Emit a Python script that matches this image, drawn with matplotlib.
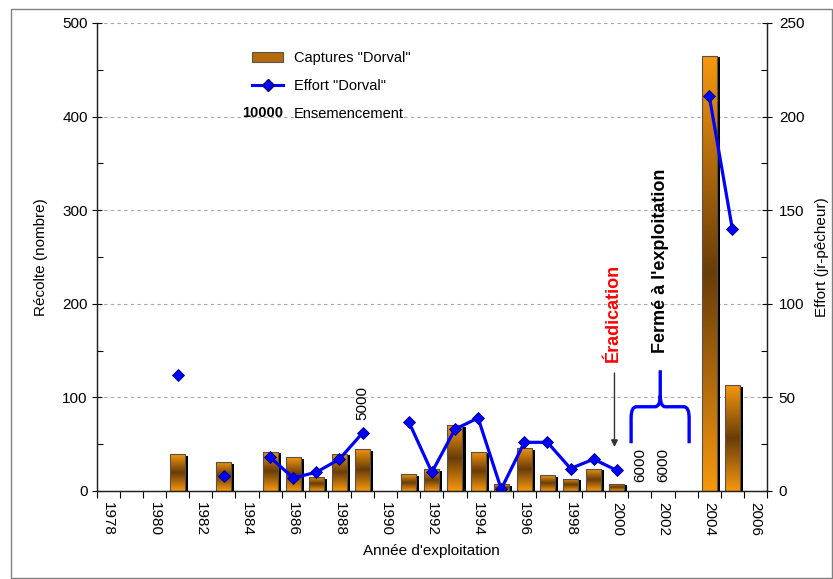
import numpy as np
import matplotlib
matplotlib.use("Agg")
import matplotlib.pyplot as plt
import matplotlib.patheffects as pe
from matplotlib.colors import LinearSegmentedColormap
from matplotlib.lines import Line2D
from matplotlib.patches import Patch, Rectangle, PathPatch
from matplotlib.path import Path
from matplotlib.legend_handler import HandlerBase
import matplotlib.text as mtext

plt.rcParams['font.family'] = ['Liberation Sans', 'DejaVu Sans']
plt.rcParams['font.size'] = 11

nan = np.nan
years = np.arange(1978, 2007)
# captures (nombre) par année, nan = pas d'exploitation
captures = np.array([nan, nan, nan, 39, nan, 31, nan, 42, 36, 15, 40, 45, nan,
                     18, 23, 70, 42, 7, 46, 17, 13, 24, 8, nan, nan, nan,
                     465, 113, nan])
# effort (jr-pêcheur)
effort = np.array([nan, nan, nan, 62, nan, 8, nan, 18, 7, 10, 17, 31, nan,
                   37, 10, 33, 39, 1, 26, 26, 12, 17, 11, nan, nan, nan,
                   211, 140, nan])
# ensemencements
seed_years = [1989, 2001, 2002]
seed_counts = [5000, 6000, 6000]
seed_y = [76, 10, 10]

orange = '#F7980C'
brown = '#693D08'
blue = '#0000FF'

fig = plt.figure(figsize=(8.33, 5.79), dpi=100)
ax = fig.add_axes([0.1161, 0.152, 0.8047, 0.8083])
ax2 = ax.twinx()

# bars: plain face + shadow, then gradient clipped inside, then outline
mask = ~np.isnan(captures)
bars = ax.bar(years[mask], captures[mask], width=0.65, color=orange,
              edgecolor='none', zorder=2,
              path_effects=[pe.SimplePatchShadow(offset=(2.2, -1.2),
                                                 shadow_rgbFace='black', alpha=1),
                            pe.Normal()])
cmap = LinearSegmentedColormap.from_list('bar', [brown, '#B06A0C', orange])
grad = np.abs(np.linspace(-1, 1, 256)).reshape(-1, 1)
for b in bars:
    x0, y0 = b.get_xy()
    im = ax.imshow(grad, extent=(x0, x0 + b.get_width(), y0, y0 + b.get_height()),
                   cmap=cmap, aspect='auto', interpolation='bilinear', zorder=2.1)
    im.set_clip_path(b)
ax.bar(years[mask], captures[mask], width=0.65, fill=False,
       edgecolor='#5a5048', linewidth=0.8, zorder=2.2)

ax2.plot(years, effort, color=blue, lw=2.3, marker='D', markersize=6.5,
         markerfacecolor=blue, markeredgecolor='#000070', markeredgewidth=0.6)

ax.set_xlim(1977.5, 2006.5)
ax.set_ylim(0, 500)
ax2.set_ylim(0, 250)

ax.set_xticks(np.arange(1978, 2007, 2))
ax.set_xticks(np.arange(1977.5, 2007, 1), minor=True)
ax.tick_params(axis='x', which='major', length=0, rotation=-90, pad=8)
ax.tick_params(axis='x', which='minor', length=5, direction='out', width=0.8)

ax.set_yticks(np.arange(0, 501, 100))
ax.set_yticks(np.arange(0, 501, 50), minor=True)
ax.tick_params(axis='y', which='major', direction='inout', length=7, width=0.8, pad=3)
ax.tick_params(axis='y', which='minor', direction='in', length=4, width=0.8)
ax2.set_yticks(np.arange(0, 251, 50))
ax2.set_yticks(np.arange(0, 251, 25), minor=True)
ax2.tick_params(axis='y', which='major', direction='inout', length=7, width=0.8, pad=5)
ax2.tick_params(axis='y', which='minor', direction='in', length=4, width=0.8)

ax.grid(axis='y', which='major', color='#a8a8a8', linestyle=(0, (3, 3)), linewidth=0.8)
ax.set_axisbelow(True)
for a in (ax, ax2):
    a.spines['top'].set_visible(False)
    for s in ('left', 'right', 'bottom'):
        a.spines[s].set_linewidth(0.9)
        a.spines[s].set_color('#222222')

ax.set_xlabel("Année d'exploitation", labelpad=6)
ax.set_ylabel("Récolte (nombre)", labelpad=10)
ax2.set_ylabel("Effort (jr-pêcheur)", labelpad=8)

# stocking counts
for yr, n, yy in zip(seed_years, seed_counts, seed_y):
    ax.text(yr, yy, str(n), rotation=90, ha='center', va='bottom', zorder=5)

ax.text(1999.85, 138, "Éradication", rotation=90, ha='center', va='bottom',
        color='red', fontweight='bold', fontsize=13, zorder=5)
ax.annotate('', xy=(1999.9, 44), xytext=(1999.9, 129),
            arrowprops=dict(arrowstyle='-|>', color='#333333', lw=1, mutation_scale=10))
ax.text(2001.9, 147, "Fermé à l'exploitation", rotation=90, ha='center', va='bottom',
        fontweight='bold', fontsize=13, zorder=5)

# curly brace over the closed years
verts = [(2000.62, 51), (2000.62, 78), (2000.62, 90), (2000.85, 90),
         (2001.65, 90), (2001.88, 90), (2001.88, 102), (2001.88, 129),
         (2001.88, 102), (2001.88, 90), (2002.1, 90),
         (2002.9, 90), (2003.13, 90), (2003.13, 78), (2003.13, 51)]
codes = [Path.MOVETO, Path.LINETO, Path.CURVE3, Path.CURVE3,
         Path.LINETO, Path.CURVE3, Path.CURVE3, Path.LINETO,
         Path.MOVETO, Path.CURVE3, Path.CURVE3,
         Path.LINETO, Path.CURVE3, Path.CURVE3, Path.LINETO]
ax.add_patch(PathPatch(Path(verts, codes), fill=False, edgecolor=blue, lw=2.4,
                       capstyle='butt', zorder=5))


class SeedKey:
    pass


class SeedHandler(HandlerBase):
    def create_artists(self, legend, orig_handle, xdescent, ydescent,
                       width, height, fontsize, trans):
        t = mtext.Text(width - xdescent, height / 2 - ydescent, "10000",
                       ha='right', va='center', fontsize=fontsize,
                       fontweight='bold', transform=trans)
        return [t]


handles = [Patch(facecolor='#B56A0C', edgecolor='#555555', linewidth=0.8),
           Line2D([], [], color=blue, lw=2.2, marker='D', markersize=6.5,
                  markerfacecolor=blue, markeredgecolor='#000070'),
           SeedKey()]
labels = ['Captures "Dorval"', 'Effort "Dorval"', 'Ensemencement']
leg = ax2.legend(handles, labels, handler_map={SeedKey: SeedHandler()},
                 loc='upper left', bbox_to_anchor=(0.232, 0.94), frameon=False,
                 fontsize=10.5, handlelength=2.1, handleheight=0.6,
                 handletextpad=0.75, labelspacing=0.95, borderpad=0,
                 borderaxespad=0)

fig.patches.append(Rectangle((0.0132, 0.0017), 0.9856, 0.9827, transform=fig.transFigure,
                             fill=False, edgecolor='#808080', lw=1))

fig.savefig("out.png", dpi=100)
